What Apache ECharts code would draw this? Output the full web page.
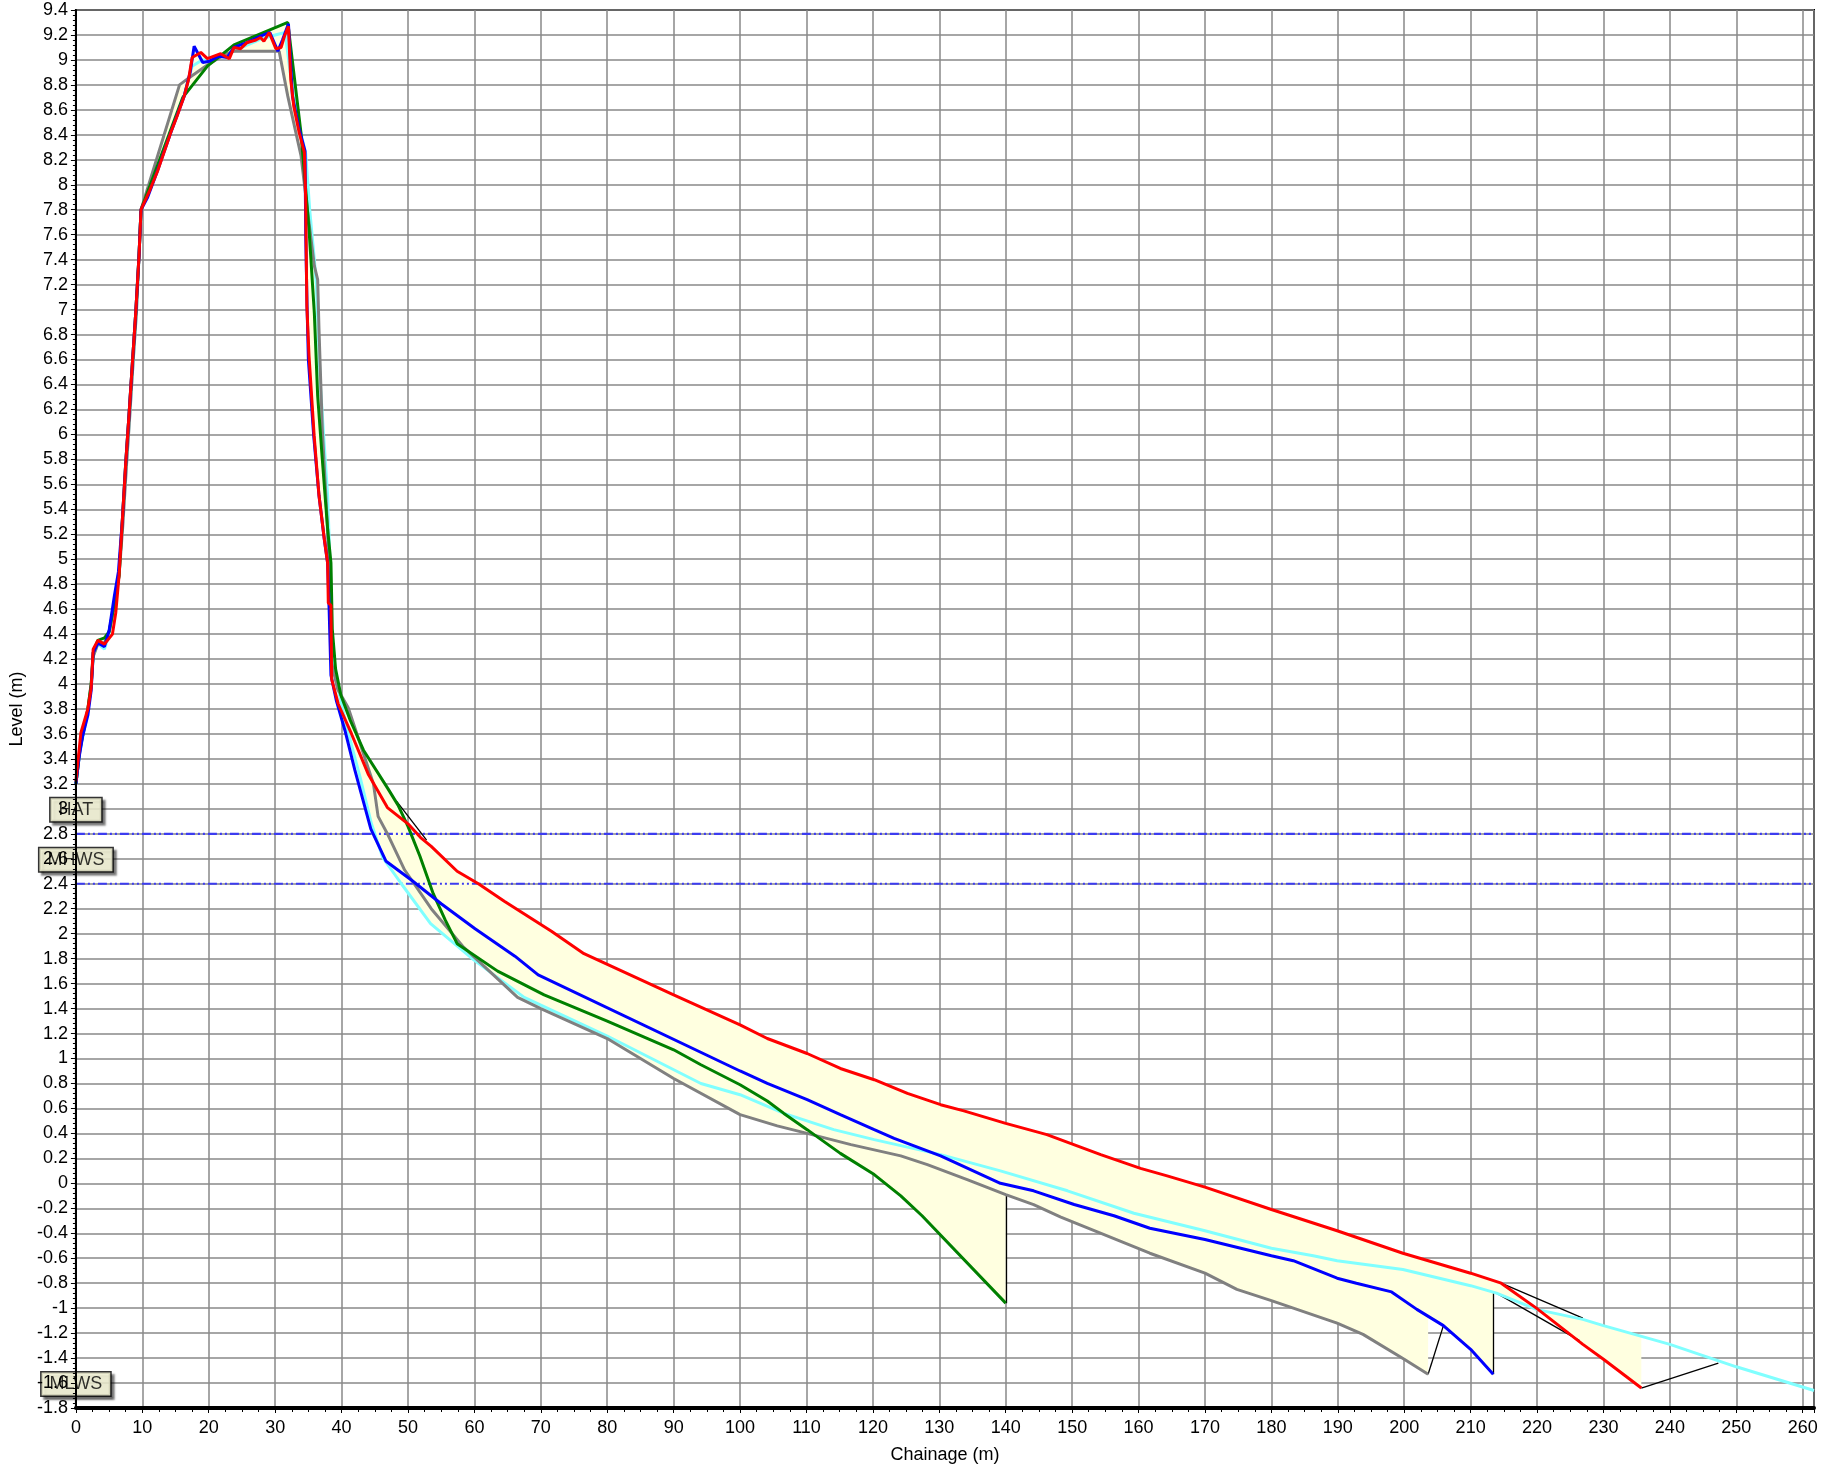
<!DOCTYPE html>
<html><head><meta charset="utf-8">
<script src="https://cdn.jsdelivr.net/npm/echarts@6/dist/echarts.min.js"></script>
<style>html,body{margin:0;padding:0;background:#fff}#c{width:1830px;height:1469px}</style>
</head><body><div id="c"></div>
<script>
// Chainage (m) / Level (m) profiles
const profileCyan = [[0,3.2],[0.6,3.46],[1.8,3.78],[2.3,3.98],[2.6,4.22],[3.3,4.32],[4.3,4.28],[5.0,4.40],[5.8,4.66],[6.5,4.87],[7.0,5.30],[7.6,5.76],[8.1,6.16],[8.6,6.57],[9.1,6.97],[9.5,7.43],[9.8,7.8],[12.0,8.1],[14.3,8.42],[16.3,8.72],[17.5,8.95],[19.0,9.0],[20.5,9.0],[23.0,9.05],[25.0,9.1],[28.0,9.17],[30.0,9.2],[31.5,9.22],[32.5,8.8],[33.5,8.5],[34.6,8.25],[35.2,7.8],[35.9,7.4],[36.2,7.2],[36.8,6.4],[37.4,5.91],[37.9,5.51],[38.3,4.9],[38.4,4.37],[38.7,4.15],[40.8,3.65],[42.8,3.25],[44.5,2.88],[46.2,2.61],[49.0,2.40],[53.4,2.08],[59.9,1.79],[67.5,1.49],[80.0,1.18],[94.1,0.80],[100,0.71],[106.6,0.56],[114.1,0.43],[120.2,0.35],[130.2,0.23],[139.2,0.10],[149.3,-0.06],[159.3,-0.24],[170,-0.38],[180,-0.52],[186.3,-0.58],[189.9,-0.62],[199.8,-0.69],[210,-0.82],[213.9,-0.88],[219.9,-1.01],[226.9,-1.09],[230,-1.14],[240,-1.29],[250,-1.47],[261.7,-1.66]];
const profileGray = [[0,3.2],[0.6,3.47],[1.8,3.8],[2.3,4.0],[2.6,4.22],[3.3,4.32],[4.3,4.33],[5.0,4.42],[5.8,4.62],[6.5,4.87],[7.1,5.30],[7.6,5.74],[8.1,6.14],[8.6,6.57],[9.1,6.97],[9.5,7.43],[9.8,7.8],[15.6,8.80],[17.1,8.86],[19.8,8.96],[22.3,9.04],[23.8,9.07],[30.6,9.07],[31.9,8.71],[33.9,8.23],[34.9,7.78],[35.9,7.35],[36.4,7.24],[36.6,6.84],[37.1,6.04],[37.9,5.24],[38.1,4.71],[38.5,4.17],[39.4,3.96],[41.0,3.81],[43.0,3.49],[44.8,3.20],[45.5,2.94],[47.0,2.79],[49.5,2.51],[53.5,2.20],[58.4,1.89],[66.5,1.49],[70,1.40],[80,1.16],[90,0.84],[100,0.55],[105.6,0.46],[110.1,0.40],[116.7,0.31],[124.2,0.22],[128.2,0.15],[134.2,0.03],[140,-0.09],[144.2,-0.17],[148.3,-0.27],[161.7,-0.56],[170,-0.72],[174.8,-0.85],[180,-0.94],[189.9,-1.12],[193.8,-1.21],[200,-1.41],[203.6,-1.53]];
const profileGreen = [[0,3.2],[0.6,3.48],[1.8,3.8],[2.3,4.0],[2.6,4.25],[3.3,4.35],[4.3,4.37],[5.0,4.42],[5.8,4.65],[6.5,4.87],[7.0,5.32],[7.5,5.77],[8.0,6.16],[8.5,6.57],[9.0,6.97],[9.5,7.43],[9.8,7.8],[16.1,8.70],[19.8,8.95],[23.8,9.12],[31.9,9.30],[33.9,8.41],[35.1,7.64],[35.9,6.97],[36.4,6.31],[37.1,5.80],[37.9,5.24],[38.4,4.97],[38.6,4.44],[39.1,4.12],[39.9,3.91],[41.3,3.71],[43.3,3.47],[47.0,3.16],[48.5,3.03],[50.0,2.86],[51.8,2.62],[53.8,2.32],[55.6,2.11],[57.4,1.92],[63.5,1.70],[70.5,1.51],[80,1.30],[90,1.07],[94.1,0.95],[100,0.79],[104.1,0.66],[106.6,0.56],[110.1,0.43],[115.1,0.24],[120.2,0.07],[124.2,-0.10],[127.4,-0.26],[140,-0.96]];
const profileBlue = [[0,3.2],[0.5,3.42],[1.0,3.58],[1.8,3.75],[2.3,3.95],[2.6,4.25],[3.3,4.33],[4.3,4.30],[5.0,4.43],[5.8,4.71],[6.4,4.9],[7.0,5.32],[7.5,5.77],[8.0,6.16],[8.5,6.57],[9.0,6.97],[9.5,7.43],[9.8,7.8],[10.8,7.9],[12.2,8.1],[14.3,8.42],[16.3,8.71],[17.2,8.90],[17.8,9.11],[19.1,8.98],[20.1,8.99],[21.5,9.03],[22.8,9.02],[23.8,9.10],[25.8,9.14],[27.8,9.19],[29.2,9.22],[30.4,9.07],[31.1,9.16],[32.0,9.29],[32.6,8.71],[33.6,8.45],[34.5,8.27],[34.6,7.6],[34.8,7.03],[35.0,6.6],[35.8,5.99],[36.6,5.51],[37.4,5.16],[37.9,4.97],[38.1,4.65],[38.4,4.07],[39.2,3.87],[40.5,3.63],[42.0,3.31],[44.4,2.84],[46.7,2.58],[50.5,2.43],[55.0,2.24],[60.1,2.04],[66.1,1.82],[69.6,1.67],[100,0.90],[104.1,0.80],[110.1,0.67],[115.1,0.55],[120.2,0.43],[123.2,0.36],[130.2,0.22],[139.2,0.00],[144.2,-0.06],[150.3,-0.17],[156.3,-0.26],[161.7,-0.36],[170,-0.45],[180,-0.58],[183.3,-0.62],[189.9,-0.76],[192.8,-0.80],[198.1,-0.87],[201.9,-1.01],[205.9,-1.14],[210,-1.33],[213.4,-1.53]];
const profileRed = [[0,3.22],[0.5,3.48],[0.75,3.61],[1.8,3.80],[2.3,3.97],[2.6,4.28],[3.3,4.35],[4.3,4.32],[5.5,4.40],[6.0,4.57],[6.5,4.87],[7.0,5.32],[7.5,5.77],[8.0,6.16],[8.5,6.57],[9.0,6.97],[9.5,7.43],[9.8,7.8],[11.0,7.94],[12.3,8.11],[14.3,8.42],[15.3,8.56],[16.3,8.71],[16.95,8.84],[17.5,9.02],[18.8,9.06],[19.8,9.01],[20.8,9.03],[21.8,9.05],[23.1,9.01],[23.8,9.10],[24.8,9.09],[25.8,9.14],[27.1,9.16],[27.8,9.18],[28.3,9.15],[29.1,9.22],[30.1,9.09],[30.9,9.10],[31.4,9.19],[32.0,9.27],[32.35,8.84],[32.8,8.63],[33.6,8.42],[34.4,8.26],[34.6,7.88],[34.65,7.6],[34.77,7.03],[35.1,6.63],[35.87,5.99],[36.6,5.51],[37.4,5.16],[37.9,4.97],[38.0,4.65],[38.4,4.63],[38.5,4.04],[39.5,3.84],[41.5,3.60],[44.0,3.28],[46.9,3.01],[50.0,2.88],[51.9,2.77],[53.5,2.70],[57.4,2.50],[60.6,2.40],[64.5,2.26],[71.6,2.02],[76.5,1.84],[90,1.51],[100,1.27],[104.1,1.16],[110.1,1.04],[115.1,0.92],[120.2,0.83],[125.2,0.72],[130.2,0.63],[133.7,0.58],[140,0.48],[146.2,0.39],[154.3,0.23],[160.3,0.12],[164.3,0.06],[170,-0.03],[180,-0.21],[189.9,-0.38],[199.8,-0.56],[210,-0.72],[214.6,-0.80],[219.9,-1.00],[226.9,-1.29],[230,-1.41],[235.7,-1.64]];

// Thin black closing segments of the change envelope
const closureSegments = [
  [[48.3,3.06],[52.8,2.75]],
  [[140.1,-0.96],[140.1,-0.10]],
  [[203.6,-1.53],[205.9,-1.14]],
  [[213.4,-1.53],[213.4,-0.88]],
  [[214.6,-0.80],[226.9,-1.08]],
  [[213.9,-0.88],[226.4,-1.26]],
  [[235.7,-1.64],[247.3,-1.44]]
];

// Tide levels
const tideNames = ['HAT','MHWS','MLWS'];
const tideValues = [2.8, 2.4, -1.8];

const xMin = 0, xMax = 261.7, xInterval = 10;
const yMin = -1.8, yMax = 9.4, yInterval = 0.2;

const profiles = [
  {data: profileCyan, color: '#80ffff'},
  {data: profileGray, color: '#808080'},
  {data: profileGreen, color: '#008000'},
  {data: profileBlue, color: '#0000ff'},
  {data: profileRed, color: '#ff0000'}
];

function valueAt(s, x) {
  if (x < s[0][0] || x > s[s.length-1][0]) return null;
  for (let i = 0; i < s.length - 1; i++) {
    const a = s[i], b = s[i+1];
    if (x >= a[0] && x <= b[0]) {
      if (b[0] === a[0]) return a[1];
      return a[1] + (b[1]-a[1]) * (x-a[0]) / (b[0]-a[0]);
    }
  }
  return s[s.length-1][1];
}

// envelope (max / min of all profiles) for the shaded area
const xsSet = new Set();
profiles.forEach(p => {
  p.data.forEach(pt => xsSet.add(+pt[0].toFixed(4)));
  const e = p.data[p.data.length-1][0];
  xsSet.add(+(e + 0.001).toFixed(4));
});
for (let x = 0; x <= 262; x += 0.1) xsSet.add(+x.toFixed(4));
const xs = Array.from(xsSet).sort((a,b) => a-b);
const upper = [], lower = [];
xs.forEach(x => {
  let mx = -Infinity, mn = Infinity, n = 0;
  profiles.forEach(p => {
    const v = valueAt(p.data, x);
    if (v !== null) { n++; if (v > mx) mx = v; if (v < mn) mn = v; }
  });
  if (n > 0) { upper.push([x, mx]); lower.push([x, mn]); }
});
const envelope = upper.concat(lower.slice().reverse());

const FONT = 'Liberation Sans, Arial, Helvetica, sans-serif';

const series = [];
series.push({
  type: 'custom', coordinateSystem: 'cartesian2d', silent: true, z: 1,
  data: [[0, 0]],
  renderItem: function (params, api) {
    return {
      type: 'polygon',
      shape: { points: envelope.map(p => api.coord(p)) },
      style: { fill: '#ffffe0', stroke: null }
    };
  }
});
series.push({
  type: 'lines', coordinateSystem: 'cartesian2d', silent: true, z: 2,
  data: closureSegments.map(s => ({ coords: s })),
  lineStyle: { color: '#000', width: 1.3, opacity: 1 }
});
tideValues.forEach((v, i) => {
  if (v > yMin) {
    series.push({
      type: 'line', silent: true, z: 2, showSymbol: false,
      data: [[xMin, v], [xMax, v]],
      lineStyle: { color: '#3c3cf0', width: 2.2, type: [9, 3, 2, 3, 2, 3] }
    });
  }
});
profiles.forEach(p => {
  series.push({
    type: 'line', showSymbol: false, z: 3, silent: true,
    data: p.data,
    lineStyle: { color: p.color, width: 3 },
    itemStyle: { color: p.color }
  });
});
series.push({
  type: 'scatter', z: 5, silent: true, symbolSize: 0,
  data: tideNames.map((n, i) => ({ name: n, value: [xMin, tideValues[i]] })),
  label: {
    show: true, position: 'inside', offset: [0, -24],
    formatter: p => p.name,
    color: '#000', fontFamily: FONT, fontSize: 18,
    backgroundColor: '#ffffe0', borderColor: '#000', borderWidth: 1.5,
    padding: [3, 8, 2, 8],
    shadowColor: 'rgba(0,0,0,0.55)', shadowOffsetX: 3, shadowOffsetY: 3, shadowBlur: 2
  }
});

const chart = echarts.init(document.getElementById('c'), null, { renderer: 'canvas' });
chart.setOption({
  animation: false,
  backgroundColor: '#fff',
  grid: { left: 75, right: 16, top: 10, bottom: 57, show: true, borderColor: '#000', borderWidth: 2, backgroundColor: 'transparent' },
  xAxis: {
    type: 'value', min: xMin, max: xMax, interval: xInterval,
    name: 'Chainage (m)', nameLocation: 'middle', nameGap: 38,
    nameTextStyle: { color: '#000', fontFamily: FONT, fontSize: 18 },
    axisLine: { show: true, onZero: false, lineStyle: { color: '#000', width: 4 } },
    axisTick: { show: true, length: 5, lineStyle: { color: '#000', width: 1 } },
    minorTick: { show: true, splitNumber: 4, length: 4, lineStyle: { color: '#000', width: 1 } },
    axisLabel: { color: '#000', fontFamily: FONT, fontSize: 18, margin: 11, showMaxLabel: false },
    splitLine: { show: true, lineStyle: { color: '#888888', width: 1.5 } },
    z: 0
  },
  yAxis: [
    {
      type: 'value', min: yMin, max: yMax, interval: yInterval,
      axisLine: { show: false }, axisTick: { show: false }, axisLabel: { show: false },
      splitLine: { show: true, lineStyle: { color: '#888888', width: 1.5 } },
      z: 0
    },
    {
      type: 'value', min: yMin, max: yMax, interval: yInterval, position: 'left',
      name: 'Level (m)', nameLocation: 'middle', nameGap: 47,
      nameTextStyle: { color: '#000', fontFamily: FONT, fontSize: 18 },
      axisLine: { show: true, onZero: false, lineStyle: { color: '#000', width: 2 } },
      axisTick: { show: true, length: 5, lineStyle: { color: '#000', width: 1 } },
      minorTick: { show: true, splitNumber: 5, length: 3, lineStyle: { color: '#000', width: 1 } },
      axisLabel: { color: '#000', fontFamily: FONT, fontSize: 18, margin: 8 },
      splitLine: { show: false },
      z: 10
    }
  ],
  series: series
});
</script></body></html>
